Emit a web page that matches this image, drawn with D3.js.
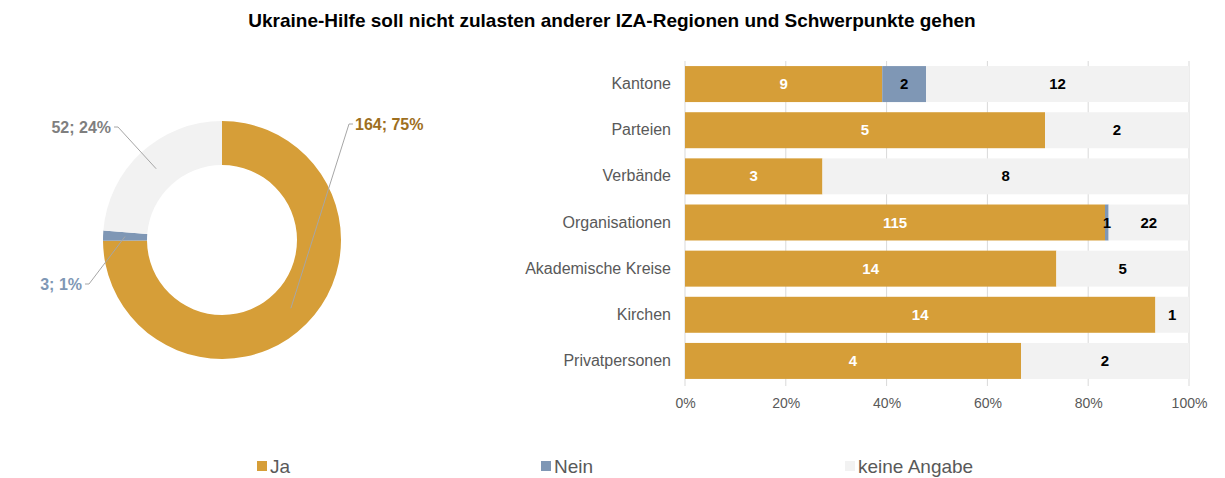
<!DOCTYPE html>
<html>
<head>
<meta charset="utf-8">
<script src="https://cdn.jsdelivr.net/npm/d3@7"></script>
<style>
  body { margin: 0; background: #fff; }
  svg { font-family: "Liberation Sans", Arial, sans-serif; }
</style>
</head>
<body>
<div id="chart"></div>
<script>
// data
const categories = ["Kantone", "Parteien", "Verbände", "Organisationen", "Akademische Kreise", "Kirchen", "Privatpersonen"];
const seriesNames = ["Ja", "Nein", "keine Angabe"];
const ja = [9, 5, 3, 115, 14, 14, 4];
const nein = [2, 0, 0, 1, 0, 0, 0];
const keineAngabe = [12, 2, 8, 22, 5, 1, 2];
const pieValues = [164, 3, 52];
const pieLabels = ["164; 75%", "3; 1%", "52; 24%"];
const xTicks = [0, 0.2, 0.4, 0.6, 0.8, 1];

const colors = ["#D69E38", "#7F97B5", "#F2F2F2"];
const labelColors = ["#9E6F1E", "#7F97B5", "#7F7F7F"];

const W = 1225, H = 478;
const svg = d3.select("#chart").append("svg")
  .attr("width", W).attr("height", H);

// title
svg.append("text")
  .attr("x", 612).attr("y", 27)
  .attr("text-anchor", "middle")
  .attr("font-size", "19px").attr("font-weight", "bold")
  .attr("fill", "#000")
  .text("Ukraine-Hilfe soll nicht zulasten anderer IZA-Regionen und Schwerpunkte gehen");

// ---- donut ----
const cx = 222, cy = 240;
const pie = d3.pie().sort(null).value(d => d)(pieValues);
const arc = d3.arc().innerRadius(75).outerRadius(119);
const gPie = svg.append("g").attr("transform", `translate(${cx},${cy})`);
gPie.selectAll("path").data(pie).enter().append("path")
  .attr("d", arc)
  .attr("fill", (d, i) => colors[i]);

// leader lines + labels (label anchor points)
const labelPos = [
  {x: 353, y: 124, anchor: "start"},
  {x: 85, y: 284, anchor: "end"},
  {x: 114, y: 127, anchor: "end"}
];
const midArc = d3.arc().innerRadius(97).outerRadius(97);
pie.forEach((d, i) => {
  const c = midArc.centroid(d);
  const p = labelPos[i];
  const tick = p.anchor === "start" ? -4 : 4;
  svg.append("polyline")
    .attr("points", [[cx + c[0], cy + c[1]], [p.x + tick, p.y], [p.x, p.y]].map(q => q.join(",")).join(" "))
    .attr("fill", "none").attr("stroke", "#A6A6A6").attr("stroke-width", 1);
  svg.append("text")
    .attr("x", p.x + (p.anchor === "start" ? 2 : -3)).attr("y", p.y + 6)
    .attr("text-anchor", p.anchor)
    .attr("font-size", "16px").attr("font-weight", "bold")
    .attr("fill", labelColors[i])
    .text(pieLabels[i]);
});

// ---- stacked 100% bars ----
const rows = categories.map((c, i) => {
  const vals = [ja[i], nein[i], keineAngabe[i]];
  const tot = d3.sum(vals);
  let acc = 0;
  return {
    cat: c,
    segs: vals.map((v, k) => {
      const s = {v, k, x0: acc / tot, x1: (acc + v) / tot};
      acc += v;
      return s;
    })
  };
});

const x = d3.scaleLinear().domain([0, 1]).range([685, 1189]);
const y = d3.scaleBand().domain(categories).range([61, 384]).paddingInner(0.22).paddingOuter(0.11);

const gGrid = svg.append("g");
gGrid.selectAll("line").data(xTicks).enter().append("line")
  .attr("x1", d => x(d)).attr("x2", d => x(d))
  .attr("y1", 61).attr("y2", 386)
  .attr("stroke", "#D9D9D9").attr("stroke-width", 1);

const gRow = svg.selectAll("g.row").data(rows).enter().append("g").attr("class", "row");
gRow.selectAll("rect").data(d => d.segs.map(s => ({...s, cat: d.cat}))).enter().append("rect")
  .attr("x", d => x(d.x0))
  .attr("width", d => x(d.x1) - x(d.x0))
  .attr("y", d => y(d.cat))
  .attr("height", y.bandwidth())
  .attr("fill", d => colors[d.k]);

gRow.selectAll("text").data(d => d.segs.filter(s => s.v > 0).map(s => ({...s, cat: d.cat}))).enter().append("text")
  .attr("x", d => (x(d.x0) + x(d.x1)) / 2)
  .attr("y", d => y(d.cat) + y.bandwidth() / 2 + 5)
  .attr("text-anchor", "middle")
  .attr("font-size", "15px").attr("font-weight", "bold")
  .attr("fill", d => d.k === 0 ? "#fff" : "#000")
  .text(d => d.v);

// category axis
const yAxis = svg.append("g").attr("transform", "translate(685,0)")
  .call(d3.axisLeft(y).tickSize(0).tickPadding(14));
yAxis.select(".domain").remove();
yAxis.selectAll("text").attr("font-size", "16px").attr("fill", "#595959")
  .attr("font-family", "Liberation Sans, Arial, sans-serif");

// x axis
const xAxis = svg.append("g").attr("transform", "translate(0,386)")
  .call(d3.axisBottom(x).tickValues(xTicks).tickFormat(d3.format(".0%")).tickSize(0).tickPadding(12));
xAxis.select(".domain").remove();
xAxis.selectAll("text").attr("font-size", "14px").attr("fill", "#595959")
  .attr("font-family", "Liberation Sans, Arial, sans-serif");

// legend
const legendX = [257, 541, 845];
const gLeg = svg.selectAll("g.leg").data(seriesNames).enter().append("g")
  .attr("class", "leg")
  .attr("transform", (d, i) => `translate(${legendX[i]},466)`);
gLeg.append("rect").attr("x", 0).attr("y", -5).attr("width", 10).attr("height", 10)
  .attr("fill", (d, i) => colors[i]);
gLeg.append("text").attr("x", 13).attr("y", 7)
  .attr("font-size", "19px").attr("fill", "#595959")
  .text(d => d);
</script>
</body>
</html>
